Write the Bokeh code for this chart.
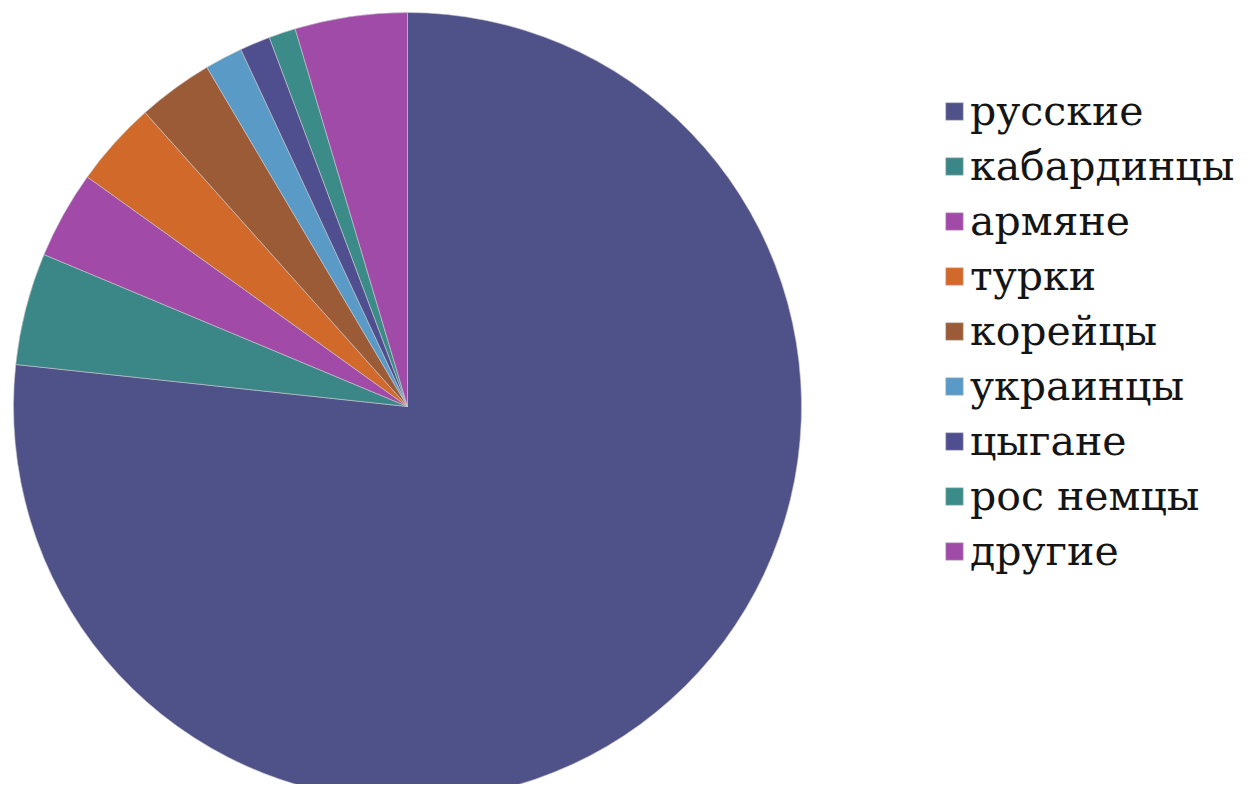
import numpy as np
from bokeh.plotting import figure
from bokeh.models import ColumnDataSource, Legend, LegendItem
from bokeh.embed import file_html
from bokeh.resources import INLINE

# data (percent shares)
groups = ["русские", "кабардинцы", "армяне", "турки", "корейцы",
          "украинцы", "цыгане", "рос немцы", "другие"]
shares = [76.7, 4.6, 3.6, 3.5, 3.1, 1.55, 1.25, 1.1, 4.6]
colors = ["#4F5189", "#3B8686", "#A24AA8", "#D0692A", "#9A5B36",
          "#5A9AC6", "#4F4F90", "#3B8C88", "#A14BA8"]

W, H = 1237, 784
cx, cy, R = 407, 378, 394

vals = np.array(shares, dtype=float)
frac = vals / vals.sum()
cum = np.concatenate([[0.0], np.cumsum(frac)])
start = np.pi / 2 - 2 * np.pi * cum[1:]
end = np.pi / 2 - 2 * np.pi * cum[:-1]

src = ColumnDataSource(dict(group=groups, start=start, end=end, color=colors,
                            x=[cx] * len(groups), y=[cy] * len(groups)))

p = figure(width=W, height=H, x_range=(0, W), y_range=(0, H),
           output_backend="svg", toolbar_location=None, min_border=0,
           outline_line_color=None)
p.axis.visible = False
p.grid.visible = False

r = p.wedge(x="x", y="y", radius=R, start_angle="start", end_angle="end",
            direction="anticlock", fill_color="color", line_color="#c8c8cc",
            line_width=0.6, source=src)

items = [LegendItem(label=g, renderers=[r], index=i) for i, g in enumerate(groups)]
legend = Legend(items=items, location=(943, 209), padding=0, margin=0,
                glyph_width=22, glyph_height=22, label_standoff=5, spacing=7,
                label_text_font="DejaVu Serif", label_text_font_size="41px",
                label_text_color="#151515", border_line_alpha=0,
                background_fill_alpha=0)
p.add_layout(legend)

open("out.html", "w").write(file_html(p, INLINE))
